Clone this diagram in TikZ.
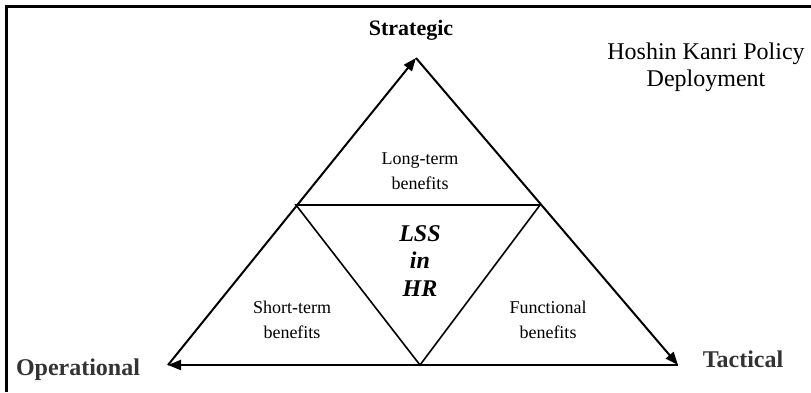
\documentclass[tikz,border=0pt]{standalone}
\usepackage{fontspec}
\setmainfont{Liberation Serif}
\usetikzlibrary{arrows.meta}
\begin{document}
\begin{tikzpicture}[x=1pt,y=-1pt,
  edge/.style={line width=2pt,-{Triangle[length=13pt,width=10pt]}},
  inner/.style={line width=1.6pt},
  corner/.style={font=\fontsize{24}{27}\selectfont\bfseries,text=black!80,inner sep=0pt},
  small/.style={font=\fontsize{18}{25}\selectfont,align=center,inner sep=0pt},
  frame/.style={line width=3pt}]
\useasboundingbox (0,0) rectangle (811,392);
\draw[frame] (6,392) -- (6,6) -- (811,6);
\coordinate (T) at (416,58);
\coordinate (BL) at (168,365);
\coordinate (BR) at (678,365);
\coordinate (ML) at (296,205);
\coordinate (MR) at (540,205);
\coordinate (MB) at (420,365);
\draw[edge] (BL) -- (T);
\draw[edge] (T) -- (BR);
\draw[edge] (BR) -- (BL);
\draw[inner] (ML) -- (MR) -- (MB) -- cycle;
\node[font=\fontsize{22}{24}\selectfont\bfseries,inner sep=0pt,anchor=base] (strat) at (411,35) {Strategic};
\node[corner,anchor=base] (oper) at (78,375) {Operational};
\node[corner,anchor=base] (tact) at (743,367) {Tactical};
\node[font=\fontsize{24}{27}\selectfont,align=center,inner sep=0pt,anchor=base] (hk) at (706,86) {Hoshin Kanri Policy\\Deployment};
\node[small,anchor=base] (lt) at (420,189) {Long-term\\benefits};
\node[small,anchor=base] (st) at (292,338) {Short-term\\benefits};
\node[small,anchor=base] (fb) at (548,338) {Functional\\benefits};
\node[font=\fontsize{24}{27.5}\selectfont\bfseries\itshape,align=center,inner sep=0pt,anchor=base] (lss) at (420,296) {LSS\\in\\HR};
\end{tikzpicture}
\end{document}
